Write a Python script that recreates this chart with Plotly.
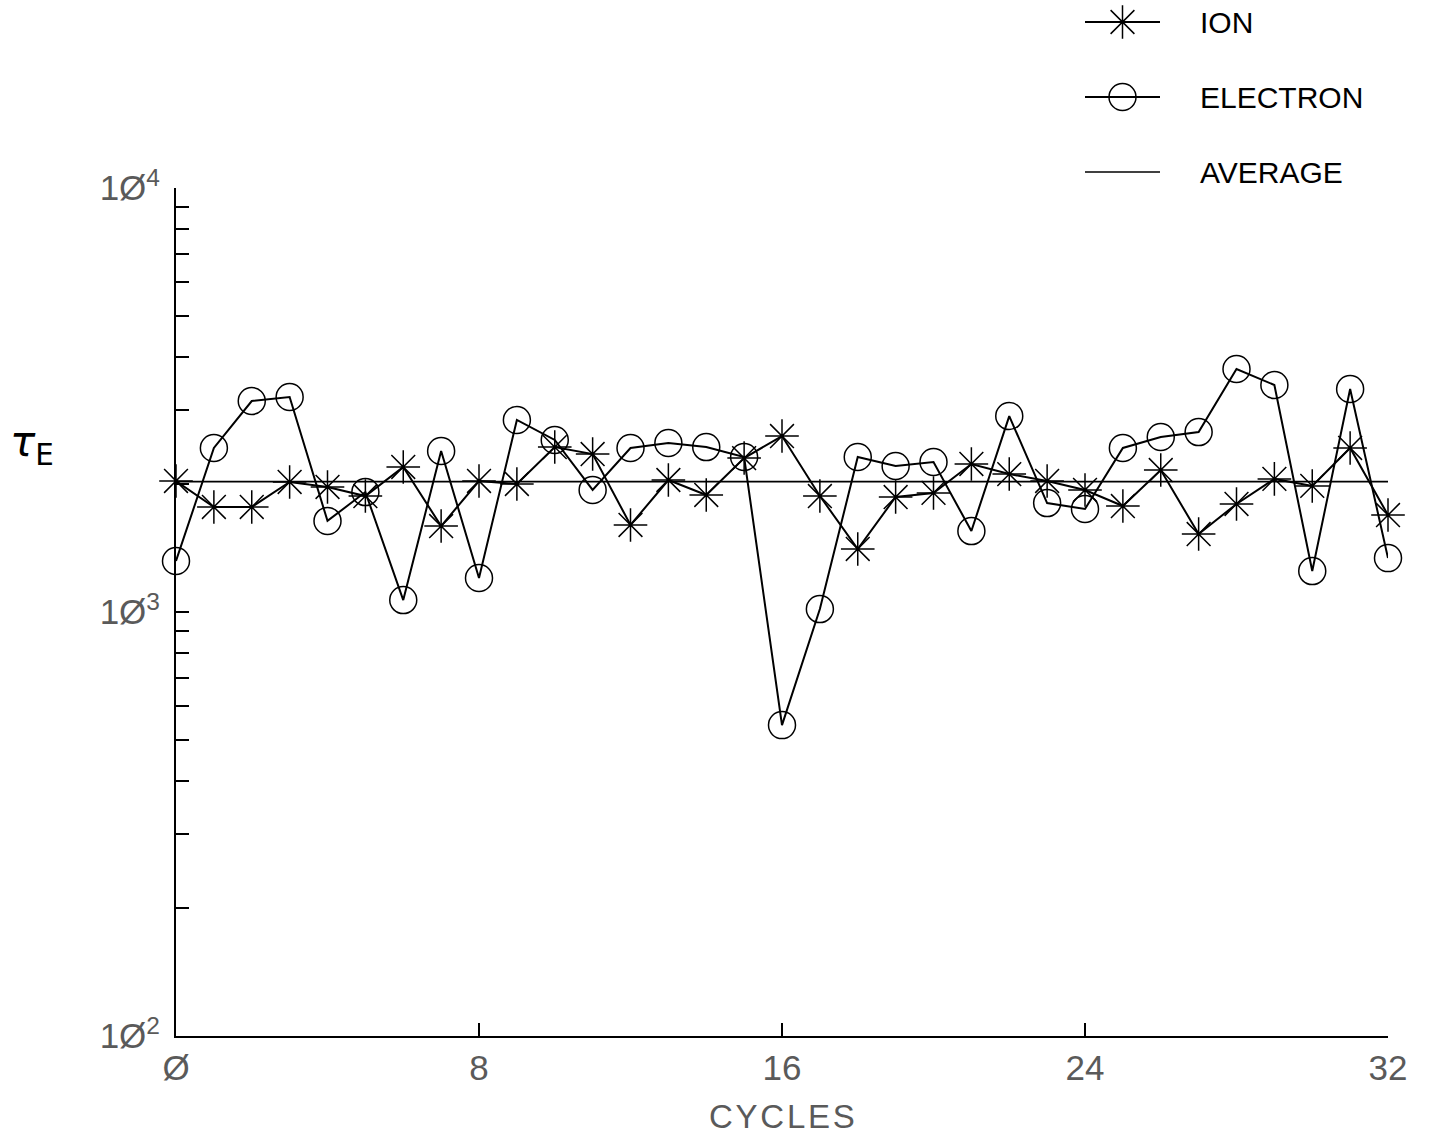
import plotly.graph_objects as go

# ---------------- data ----------------
CYCLES = list(range(0, 33))
ION = [2037, 1769, 1769, 2026, 1972, 1877, 2198, 1595, 2037, 2004,
       2449, 2358, 1604, 2048, 1888, 2307, 2600, 1877, 1408, 1867,
       1909, 2234, 2115, 2037, 1940, 1778, 2162, 1527, 1798, 2060,
       1983, 2437, 1693]
ELECTRON = [1319, 2437, 3145, 3214, 1640, 1918, 1067, 2397, 1203, 2837,
            2545, 1940, 2437, 2504, 2449, 2320, 541, 1016, 2320, 2210,
            2258, 1552, 2898, 1807, 1750, 2437, 2587, 2657, 3742, 3430,
            1249, 3357, 1340]
AVERAGE = 2030
X_TICKS = [0, 8, 16, 24, 32]
X_TICK_TEXT = ["Ø", "8", "16", "24", "32"]
Y_DECADES = {100: "1Ø<sup>2</sup>", 1000: "1Ø<sup>3</sup>", 10000: "1Ø<sup>4</sup>"}
LEGEND_NAMES = ["ION", "ELECTRON", "AVERAGE"]

# ---------------- layout constants ----------------
W, H = 1431, 1136
ML, MR, MT, MB = 176, 43, 10, 100
PLOT_W = W - ML - MR
PLOT_H = H - MT - MB
main_top = (H - MB - 188) / PLOT_H
FONT = "Liberation Sans Narrow, Liberation Sans, DejaVu Sans, sans-serif"
LBL = "#5a5a5a"


def px_to_paper(px, py):
    return (px - ML) / PLOT_W, (H - MB - py) / PLOT_H


y_tickvals = []
for d in (100, 1000):
    for k in range(1, 10):
        y_tickvals.append(d * k)
y_tickvals.append(10000)
y_ticktext = [Y_DECADES.get(v, "") for v in y_tickvals]

fig = go.Figure()

ion_style = dict(mode="lines+markers", line=dict(color="black", width=2),
                 marker=dict(symbol="asterisk-open", size=28, color="black",
                             line=dict(color="black", width=1.5)))
ele_style = dict(mode="lines+markers", line=dict(color="black", width=2),
                 marker=dict(symbol="circle-open", size=27, color="black",
                             line=dict(color="black", width=1.5)))
avg_style = dict(mode="lines", line=dict(color="black", width=1.6))

fig.add_trace(go.Scatter(x=CYCLES, y=ION, cliponaxis=False, showlegend=False, **ion_style))
fig.add_trace(go.Scatter(x=CYCLES, y=ELECTRON, cliponaxis=False, showlegend=False, **ele_style))
fig.add_trace(go.Scatter(x=[CYCLES[0], CYCLES[-1]], y=[AVERAGE, AVERAGE],
                         cliponaxis=False, showlegend=False, **avg_style))

# ---------------- manual legend on hidden axes (pixel units) ----------------
LEG_X0, LEG_X1 = 1060, 1388
LEG_Y_BOTTOM, LEG_Y_TOP = 200, 10
leg_rows = [22, 97, 172]
styles = [ion_style, ele_style, avg_style]
for name, row, st in zip(LEGEND_NAMES, leg_rows, styles):
    fig.add_trace(go.Scatter(x=[1085, 1160], y=[row, row], mode="lines",
                             line=st["line"], xaxis="x2", yaxis="y2",
                             showlegend=False, hoverinfo="skip", cliponaxis=False))
    if "marker" in st:
        fig.add_trace(go.Scatter(x=[1122.5], y=[row], mode="markers",
                                 marker=st["marker"], xaxis="x2", yaxis="y2",
                                 showlegend=False, hoverinfo="skip", cliponaxis=False))
    fig.add_annotation(x=1198, y=row, xref="x2", yref="y2", text=name,
                       showarrow=False, xanchor="left", yanchor="middle",
                       font=dict(family="Liberation Sans, sans-serif", size=30, color="black"))

# y-axis title (tau_E)
tx, ty = px_to_paper(8, 445)
fig.add_annotation(x=tx, y=ty, xref="paper", yref="paper",
                   xanchor="left", yanchor="middle", showarrow=False,
                   text="<i>τ</i><sub>E</sub>",
                   font=dict(family="DejaVu Sans, sans-serif", size=42, color="black"))

# x-axis title
cx, cy = px_to_paper(782, 1116)
fig.add_annotation(x=cx, y=cy, xref="paper", yref="paper",
                   xanchor="center", yanchor="middle", showarrow=False,
                   text="C\u200aY\u200aC\u200aL\u200aE\u200aS",
                   font=dict(family=FONT, size=33, color=LBL))

fig.update_layout(
    width=W, height=H,
    margin=dict(l=ML, r=MR, t=MT, b=MB, pad=0, autoexpand=False),
    paper_bgcolor="white", plot_bgcolor="white",
    showlegend=False,
    xaxis=dict(range=[0, 32], tickvals=X_TICKS, ticktext=X_TICK_TEXT,
               showgrid=False, zeroline=False, showline=True, linecolor="black",
               linewidth=2, ticks="inside", ticklen=13, tickwidth=2, tickcolor="black",
               ticklabelstandoff=0, automargin=False,
               tickfont=dict(family=FONT, size=35, color=LBL)),
    yaxis=dict(type="log", range=[2, 4], domain=[0, main_top],
               tickvals=y_tickvals, ticktext=y_ticktext,
               showgrid=False, zeroline=False, showline=True, linecolor="black",
               linewidth=2, ticks="inside", ticklen=13, tickwidth=2, tickcolor="black",
               ticklabelstandoff=7, automargin=False,
               tickfont=dict(family=FONT, size=35, color=LBL)),
    xaxis2=dict(domain=[(LEG_X0 - ML) / PLOT_W, 1], range=[LEG_X0, LEG_X1],
                anchor="y2", visible=False),
    yaxis2=dict(domain=[(H - MB - LEG_Y_BOTTOM) / PLOT_H, 1], range=[LEG_Y_BOTTOM, LEG_Y_TOP],
                anchor="x2", visible=False),
)

fig.write_html("out.html", config={"displayModeBar": False},
               post_script="document.body.style.margin='0';document.body.style.overflow='hidden';")
